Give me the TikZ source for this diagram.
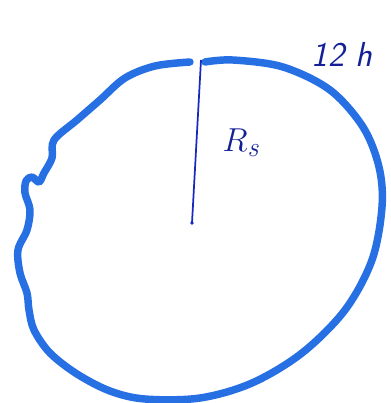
\documentclass[tikz,border=0pt]{standalone}
\usepackage{amsmath}
\usepackage{xcolor}
\usetikzlibrary{positioning}
\definecolor{ink}{RGB}{38,112,228}
\definecolor{pen}{RGB}{22,40,190}
\definecolor{lbl}{RGB}{20,32,150}
\begin{document}
\begin{tikzpicture}[x=0.75pt, y=-0.75pt,
  rim/.style={draw=ink, line width=5.6pt, line cap=round, line join=round},
  rad/.style={draw=pen, line width=1.3pt},
  tag/.style={text=lbl, font=\fontsize{26}{28}\selectfont\sffamily\itshape, inner sep=1pt}]
\useasboundingbox (0,0) rectangle (390,403);
% Centre and top of the radius.
\coordinate (centre) at (192,223);
\coordinate (top) at (201,60);
% The hand-drawn outline, open at the top where the radius meets it.
\draw[rim] plot[smooth, tension=0.55] coordinates {
  (205,62) (233,60) (283,67) (330,90) (363,127) (379,167) (382,207)
  (372,260) (345,310) (302,353) (252,383) (200,398) (145,399) (110,391)
  (77,374) (50,353) (34,330) (29,310) (27,293) (20,273) (18,250)
  (27,230) (30,210) (25,193) (26,181) (32,177) (39,182) (44,173)
  (52,158) (54,140) (77,120) (100,100) (125,78) (155,66) (190,62)};
% Radius.
\draw[rad] (centre) -- (top);
\fill[pen] (centre) circle (1.4pt);
% Labels.
\node[tag, font=\fontsize{30}{32}\selectfont] (rs) at (242,143) {$R_{\mathit{s}}$};
\node[tag] (hours) at (342,54) {12 h};
\end{tikzpicture}
\end{document}
